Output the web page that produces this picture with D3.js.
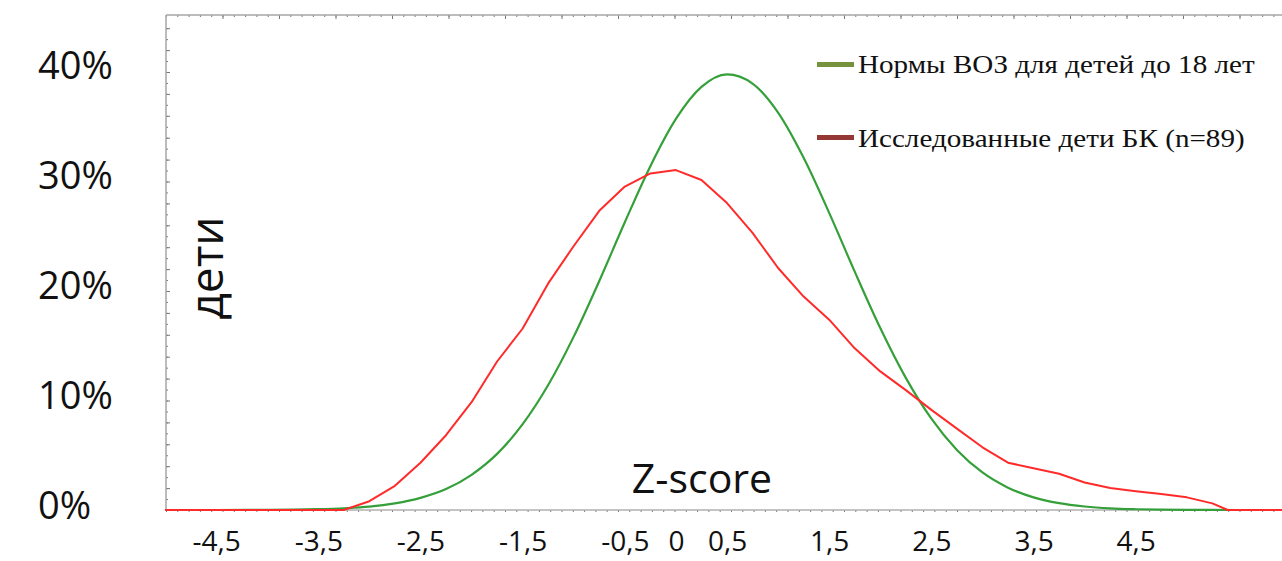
<!DOCTYPE html>
<html>
<head>
<meta charset="utf-8">
<script src="https://cdn.jsdelivr.net/npm/d3@7"></script>
<style>
  html, body { margin: 0; padding: 0; background: #fff; }
  svg { display: block; }
</style>
</head>
<body>
<svg id="chart" width="1282" height="561"></svg>
<script>
// WHO reference curve (z-score, % of children)
const zWho = [-5, -4.5, -4, -3.75, -3.5, -3.25, -3, -2.75, -2.5, -2.25, -2, -1.75, -1.5, -1.25, -1, -0.75, -0.5, -0.25, 0, 0.25, 0.5, 0.75, 1, 1.25, 1.5, 1.75, 2, 2.25, 2.5, 2.75, 3, 3.25, 3.5, 3.75, 4, 4.25, 4.5, 4.75, 5, 5.5, 6];
const pctWho = [0, 0, 0.02, 0.04, 0.08, 0.16, 0.3, 0.6, 1.1, 1.9, 3.2, 5.1, 7.8, 11.36, 15.76, 20.82, 26.16, 31.26, 35.55, 38.46, 39.6, 38.77, 36.13, 32.02, 27.01, 21.67, 16.54, 12.01, 8.3, 5.46, 3.41, 2.03, 1.15, 0.62, 0.32, 0.15, 0.07, 0.03, 0.01, 0, 0];

// Examined children with BK (n=89)
const zSample = [-5, -3.25, -3, -2.75, -2.5, -2.25, -2, -1.75, -1.5, -1.25, -1, -0.75, -0.5, -0.25, 0, 0.25, 0.5, 0.75, 1, 1.25, 1.5, 1.75, 2, 2.25, 2.5, 2.75, 3, 3.25, 3.5, 3.75, 4, 4.25, 4.5, 4.75, 5, 5.25, 5.4, 6];
const pctSample = [0, 0, 0.8, 2.2, 4.3, 6.8, 9.8, 13.5, 16.5, 20.6, 24.0, 27.2, 29.4, 30.6, 30.9, 30.0, 27.9, 25.2, 22.0, 19.4, 17.3, 14.7, 12.6, 10.9, 9.1, 7.4, 5.7, 4.3, 3.8, 3.3, 2.5, 2.0, 1.7, 1.45, 1.15, 0.6, 0, 0];

const yTicks = [0, 10, 20, 30, 40];
const xTicks = [-4.5, -3.5, -2.5, -1.5, -0.5, 0, 0.5, 1.5, 2.5, 3.5, 4.5];
const seriesNames = ["Нормы ВОЗ для детей до 18 лет", "Исследованные дети БК (n=89)"];
const seriesColors = ["#35a03a", "#ff2b2b"];
const legendColors = ["#76923c", "#953735"];

const svg = d3.select("#chart");
const W = 1282, H = 561;
const plotLeft = 166, plotTop = 15, plotBottom = 510;

svg.append("rect").attr("width", W).attr("height", H).attr("fill", "#fff");

const x = d3.scaleLinear().domain([-5, 6]).range([165, 1289]);
const y = d3.scaleLinear().domain([0, 40]).range([plotBottom, 70]);

// Plot frame with fine tick marks (top and left borders)
const frameX = d3.scaleLinear().domain([0, 20]).range([plotLeft, plotLeft + 56.5 * 20]);
const frameY = d3.scaleLinear().domain([0, 22]).range([plotBottom, plotBottom - 21.9 * 22]);

const frame = svg.append("g").attr("class", "frame");

function styleFrameAxis(g) {
  g.select(".domain").remove();
  g.selectAll("line").attr("stroke", "#777").attr("stroke-width", 1);
  g.selectAll("text").remove();
}

frame.append("g").attr("transform", `translate(0,${plotTop})`)
  .call(d3.axisBottom(frameX).tickValues(d3.range(0, 20.01, 0.2)).tickSize(2).tickFormat(""))
  .call(styleFrameAxis);
frame.append("g").attr("transform", `translate(0,${plotTop})`)
  .call(d3.axisBottom(frameX).tickValues(d3.range(1, 20, 1)).tickSize(4).tickFormat(""))
  .call(styleFrameAxis);
frame.append("g").attr("transform", `translate(${plotLeft},0)`)
  .call(d3.axisRight(frameY).tickValues(d3.range(0, 22.01, 0.5)).tickSize(2).tickFormat(""))
  .call(styleFrameAxis);
frame.append("g").attr("transform", `translate(${plotLeft},0)`)
  .call(d3.axisRight(frameY).tickValues(d3.range(1, 23, 1)).tickSize(4).tickFormat(""))
  .call(styleFrameAxis);
frame.append("g").attr("transform", `translate(0,${plotBottom})`)
  .call(d3.axisBottom(frameX).tickValues(d3.range(0, 20.01, 0.2)).tickSize(2).tickFormat(""))
  .call(styleFrameAxis);

frame.append("line").attr("x1", plotLeft).attr("x2", W).attr("y1", plotTop).attr("y2", plotTop)
  .attr("stroke", "#a6a6a6").attr("stroke-width", 1.5);
frame.append("line").attr("x1", plotLeft).attr("x2", plotLeft).attr("y1", plotTop).attr("y2", plotBottom)
  .attr("stroke", "#a6a6a6").attr("stroke-width", 1.5);
frame.append("line").attr("x1", plotLeft).attr("x2", W).attr("y1", plotBottom).attr("y2", plotBottom)
  .attr("stroke", "#b0b0b0").attr("stroke-width", 1.5);

// Curves
const line = d3.line().x(d => x(d[0])).y(d => y(d[1])).curve(d3.curveMonotoneX);
const lineSample = d3.line().x(d => x(d[0])).y(d => y(d[1])).curve(d3.curveLinear);

svg.append("path")
  .datum(zWho.map((z, i) => [z, pctWho[i]]))
  .attr("d", line)
  .attr("fill", "none").attr("stroke", seriesColors[0]).attr("stroke-width", 2.2);

svg.append("path")
  .datum(zSample.map((z, i) => [z, pctSample[i]]))
  .attr("d", lineSample)
  .attr("fill", "none").attr("stroke", seriesColors[1]).attr("stroke-width", 2)
  .attr("stroke-linejoin", "round");

// Y axis labels (percent), left-aligned
const yAxis = svg.append("g").attr("transform", "translate(38,0)")
  .call(d3.axisLeft(y).tickValues(yTicks).tickSize(0).tickFormat(d => d + "%"));
yAxis.select(".domain").remove();
yAxis.selectAll("text")
  .attr("x", 0).attr("dy", "0.32em").attr("text-anchor", "start")
  .attr("transform", "translate(0,-4)")
  .style("font-family", "'Open Sans', sans-serif").style("font-size", "38px").attr("fill", "#111");

// X axis labels (z-score)
const xAxis = svg.append("g").attr("transform", "translate(0,551)")
  .call(d3.axisBottom(x).tickValues(xTicks).tickSize(0).tickFormat(d => String(d).replace(".", ",")));
xAxis.select(".domain").remove();
xAxis.selectAll("text")
  .attr("y", 0).attr("dy", 0)
  .style("font-family", "'Open Sans', sans-serif").style("font-size", "28px").attr("fill", "#111");

// Axis titles
svg.append("text").attr("x", 702).attr("y", 493).attr("text-anchor", "middle")
  .style("font-family", "'Open Sans', sans-serif").style("font-size", "41px").attr("fill", "#111")
  .text("Z-score");
svg.append("text").attr("transform", "translate(223,268) rotate(-90)").attr("text-anchor", "middle")
  .style("font-family", "'Open Sans', sans-serif").style("font-size", "46px").attr("fill", "#111")
  .text("дети");

// Legend (serif text, slightly widened)
const legend = svg.append("g").attr("class", "legend");
[[65, 73], [138, 147]].forEach(([cy, base], i) => {
  legend.append("rect").attr("x", 817).attr("y", cy - 3).attr("width", 37).attr("height", 5)
    .attr("fill", legendColors[i]);
  legend.append("text")
    .attr("transform", `translate(858,${base}) scale(1.12,1)`)
    .style("font-family", "'Liberation Serif', serif").style("font-size", "26px").attr("fill", "#111")
    .text(seriesNames[i]);
});
</script>
</body>
</html>
